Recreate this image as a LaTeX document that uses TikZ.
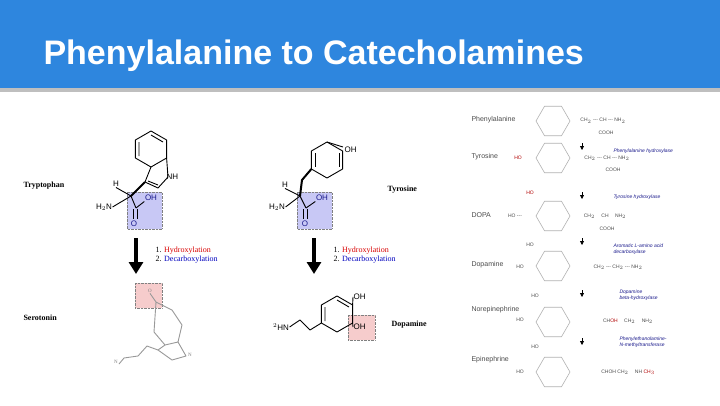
\documentclass[tikz,border=0pt]{standalone}
\usepackage{fontspec}
\setmainfont{Liberation Serif}
\newfontfamily\arial{Liberation Sans}
\usetikzlibrary{shapes.geometric,arrows.meta}
\definecolor{barblue}{HTML}{2E86DE}
\definecolor{boxblue}{HTML}{C8C8F5}
\definecolor{boxpink}{HTML}{F6CCCC}
\definecolor{enzblue}{HTML}{1A1A8C}
\tikzset{
  hexr/.style={regular polygon,regular polygon sides=6,minimum size=34pt,draw=gray!60,line width=0.6pt,inner sep=0pt},
  lab/.style={font=\small,anchor=west},
  atom/.style={font=\arial\footnotesize,inner sep=0.5pt},
  bond/.style={line width=0.9pt,line join=round},
  gbond/.style={line width=0.9pt,draw=gray!80,line join=round},
  hl/.style={draw=gray,densely dotted},
  big/.style={-{Triangle[width=14pt,length=12pt]},line width=4pt},
  rl/.style={font=\arial\scriptsize,anchor=west,text=black!70},
  enz/.style={font=\arial\tiny\itshape,anchor=west,text=enzblue,align=left},
  rt/.style={font=\arial\tiny,text=black!70},
  sm/.style={-{Triangle[width=4pt,length=4pt]},line width=0.8pt}
}
\begin{document}
\begin{tikzpicture}[x=1pt,y=-1pt]
\useasboundingbox (0,0) rectangle (720,405);
\fill[white] (0,0) rectangle (720,405);
\fill[black!25] (0,88) rectangle (720,92);
\fill[barblue] (0,0) rectangle (720,88);
\node[anchor=west,text=white,font=\arial\bfseries\fontsize{34}{38}\selectfont] (title) at (40,56) {Phenylalanine to Catecholamines};
% ---------- Tryptophan
\node[lab] (trp) at (20,186) {\footnotesize\bfseries Tryptophan};
\fill[boxblue] (127,192) rectangle (162,229);
\draw[hl] (127,192) rectangle (162,229);
\draw[bond] (151,131) -- (166.6,140) -- (166.6,158) -- (151,167) -- (135.4,158) -- (135.4,140) -- cycle;
\draw[bond] (139,142) -- (139,156) (151,135) -- (163,142);
\draw[bond] (151,167) -- (145,182) -- (158,188) -- (168,177);
\draw[bond] (166.6,158) -- (168,177);
\draw[bond] (148,181) -- (158,185);
\node[atom,anchor=west] (nh1) at (166,177) {NH};
\draw[line width=2pt] (145,182) -- (131,196);
\node[atom] (h1) at (116,184) {H};
\node[atom] (hn1) at (104,207) {H$_2$N};
\draw[bond] (h1.south) -- (131,196);
\draw[bond] (hn1.east) -- (131,196) -- (136,208);
\node[atom,text=enzblue] (oh1) at (151,198) {OH};
\node[atom,text=enzblue] (o1) at (134,224) {O};
\draw[bond] (136,208) -- (oh1.south west);
\draw[bond] (133,209) -- (133,219) (137,209) -- (137,219);
\node[lab] (ser) at (20,318) {\footnotesize\bfseries Serotonin};
\fill[boxpink] (135,283) rectangle (162,308);
\draw[hl] (135,283) rectangle (162,308);
\node[atom,font=\tiny,text=gray] (ho) at (150,291) {O};
\draw[gbond] (ho.south) -- (156,302) -- (172,310) -- (182,325) -- (178,342) -- (165,345) -- (154,332) -- (156,302);
\draw[gbond] (178,342) -- (186,356) -- (172,360) -- (158,350) -- (165,345);
\draw[gbond] (158,350) -- (147,346) -- (138,356) -- (124,358) -- (119,364);
\node[atom,font=\tiny,text=gray] (nx) at (190,355) {N};
\node[atom,font=\tiny,text=gray] (nx2) at (116,362) {N};
\draw[big] (136,238) -- (136,274);
\node[lab,align=left] (st1) at (152,255) {\footnotesize 1. \textcolor{red!85!black}{Hydroxylation}\\[-2pt]\footnotesize 2. \textcolor{blue!75!black}{Decarboxylation}};
% ---------- Tyrosine
\fill[boxblue] (297,192) rectangle (332,229);
\draw[hl] (297,192) rectangle (332,229);
\draw[bond] (327,142) -- (342.6,151) -- (342.6,169) -- (327,178) -- (311.4,169) -- (311.4,151) -- cycle;
\draw[bond] (315,153) -- (315,167) (339,153) -- (339,167);
\node[atom,anchor=west] (oh3) at (344,150) {OH};
\draw[bond] (327,142) -- (343,147);
\draw[line width=2pt] (311.4,169) -- (302,180) -- (300,196);
\node[atom] (h3) at (285,185) {H};
\node[atom] (hn3) at (277,207) {H$_2$N};
\draw[bond] (h3.south) -- (300,196);
\draw[bond] (hn3.east) -- (300,196) -- (306,208);
\node[atom,text=enzblue] (oh4) at (322,198) {OH};
\node[atom,text=enzblue] (o4) at (305,224) {O};
\draw[bond] (306,208) -- (oh4.south west);
\draw[bond] (303,209) -- (303,219) (307,209) -- (307,219);
\node[lab] (tyr) at (384,190) {\footnotesize\bfseries Tyrosine};
\draw[big] (314,238) -- (314,274);
\node[lab,align=left] (st2) at (330,255) {\footnotesize 1. \textcolor{red!85!black}{Hydroxylation}\\[-2pt]\footnotesize 2. \textcolor{blue!75!black}{Decarboxylation}};
\fill[boxpink] (348,315) rectangle (375,340);
\draw[hl] (348,315) rectangle (375,340);
\draw[bond] (337,296) -- (352.6,305) -- (352.6,323) -- (337,332) -- (321.4,323) -- (321.4,305) -- cycle;
\draw[bond] (325,307) -- (325,321) (337,300) -- (349,307);
\node[atom,anchor=west] (oh5) at (353,297) {OH};
\node[atom,anchor=west] (oh6) at (353,327) {OH};
\draw[bond] (352.6,305) -- (oh5.west);
\draw[bond] (352.6,323) -- (oh6.west);
\node[atom] (hn5) at (281,327) {$^2$HN};
\draw[bond] (hn5.east) -- (300,320) -- (310,330) -- (321.4,323);
\node[lab] (dop) at (388,325) {\footnotesize\bfseries Dopamine};
% ---------- Right pathway
\foreach \n/\t/\y in {r1/Phenylalanine/120,r2/Tyrosine/157,r3/DOPA/215,r4/Dopamine/265,r5/Norepinephrine/310,r6/Epinephrine/360}
  \node[rl] (\n) at (468,\y) {\t};
\foreach \n/\y in {h1/121,h2/158,h3/216,h4/266,h5/322,h6/372}
  \node[hexr] (\n) at (553,\y) {};
\node[rt] (a1) at (603,121) {CH$_2$ --- CH --- NH$_2$};
\node[rt] (b1) at (606,133) {COOH};
\node[rt,text=red!70!black] (a2x) at (518,158) {HO};
\node[rt] (a2) at (607,158) {CH$_2$ --- CH --- NH$_2$};
\node[rt] (b2) at (613,170) {COOH};
\node[rt,text=red!70!black] (a3x) at (530,193) {HO};
\node[rt] (a3y) at (515,216) {HO ---};
\node[rt] (a3) at (605,216) {CH$_2$ \quad CH \quad NH$_2$};
\node[rt] (b3) at (607,229) {COOH};
\node[rt] (a4x) at (530,245) {HO};
\node[rt] (a4y) at (520,267) {HO};
\node[rt] (a4) at (618,267) {CH$_2$ --- CH$_2$ --- NH$_2$};
\node[rt] (a5x) at (535,296) {HO};
\node[rt] (a5y) at (520,320) {HO};
\node[rt] (a5) at (628,321) {CH\textcolor{red!70!black}{OH} \quad CH$_2$ \quad NH$_2$};
\node[rt] (a6x) at (535,347) {HO};
\node[rt] (a6y) at (520,372) {HO};
\node[rt] (a6) at (628,372) {CHOH CH$_2$ \quad NH \textcolor{red!70!black}{CH$_3$}};
\foreach \y in {148,197,243,295,343} \draw[sm] (582,\y-5) -- (582,\y+2);
\node[enz] (e1) at (610,151) {Phenylalanine hydroxylase};
\node[enz] (e2) at (610,197) {Tyrosine hydroxylase};
\node[enz] (e3) at (610,249) {Aromatic L-amino acid\\decarboxylase};
\node[enz] (e4) at (616,295) {Dopamine\\beta-hydroxylase};
\node[enz] (e5) at (616,342) {Phenylethanolamine-\\N-methyltransferase};
\end{tikzpicture}
\end{document}
